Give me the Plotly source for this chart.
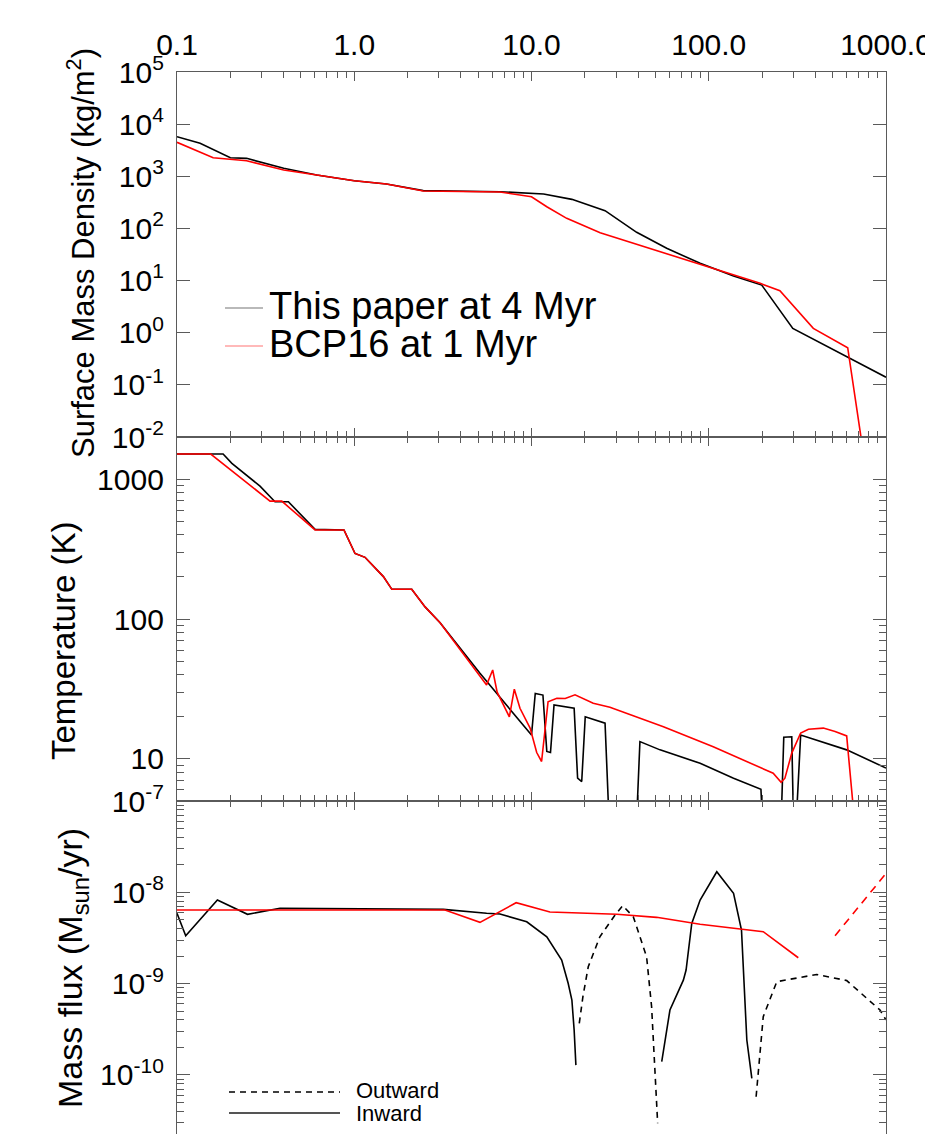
import numpy as np
import plotly.graph_objects as go

# ---------------- data ----------------
# Panel 1: surface mass density (kg/m^2)
sd_black_r = [0.1, 0.135, 0.2, 0.247, 0.4, 0.614, 1.0, 1.52, 2.45, 6.64, 11.7, 16.9, 26.0, 39.2, 57.9, 89.4, 138, 199, 298, 505, 1000]
sd_black_v = [5740, 4290, 2270, 2210, 1420, 1060, 822, 711, 530, 505, 457, 361, 219, 84.3, 41.6, 21.4, 12.2, 8.2, 1.21, 0.466, 0.140]
sd_red_r = [0.1, 0.16, 0.247, 0.4, 0.614, 1.0, 1.52, 2.45, 6.64, 10.0, 12.2, 15.8, 24.4, 37.6, 57.9, 89.4, 138, 195, 252, 389, 608, 741]
sd_red_v = [4490, 2270, 1990, 1320, 1060, 822, 711, 523, 500, 405, 261, 156, 82.8, 51.9, 31.9, 19.9, 12.8, 8.85, 6.40, 1.21, 0.515, 0.0056]

# Panel 2: temperature (K)
t_black_r = [0.1, 0.182, 0.204, 0.294, 0.357, 0.425, 0.601, 0.875, 1.01, 1.15, 1.46, 1.63, 2.11, 2.51, 3.05, 5.12, 10.0, 10.5, 11.6, 12.2, 12.8, 13.4, 17.4, 18.2, 19.2, 20.1, 26.0, 27.3, 39.3, 40.9, 53.1, 89.4, 138, 197, 200, 257, 265, 294, 300, 313, 330, 600, 1000]
t_black_v = [1510, 1510, 1295, 891, 689, 689, 437, 433, 294, 276, 201, 163, 163, 122, 94, 40.9, 14.8, 29.4, 28.6, 11.3, 11.1, 24.3, 23.0, 7.28, 6.89, 20.0, 18.0, 4, 4, 13.3, 11.6, 9.3, 7.28, 6.07, 4, 4, 14.3, 14.4, 4, 4, 14.8, 11.6, 8.6]
t_red_r = [0.1, 0.155, 0.335, 0.39, 0.601, 0.875, 1.01, 1.15, 1.46, 1.63, 2.11, 2.51, 3.05, 5.58, 6.04, 6.4, 7.5, 8.0, 8.61, 9.82, 10.7, 11.4, 12.4, 13.9, 15.5, 17.6, 22.3, 27.7, 55.5, 106, 231, 256, 269, 294, 330, 365, 443, 516, 600, 659]
t_red_v = [1510, 1510, 696, 696, 433, 433, 294, 276, 201, 163, 163, 122, 94, 33.8, 43.2, 30.0, 20.0, 31.5, 23.0, 16.6, 11.1, 9.58, 25.6, 27.1, 27.0, 28.7, 25.0, 23.4, 17.0, 12.2, 7.9, 6.8, 7.28, 11.0, 15.3, 16.3, 16.6, 15.7, 14.6, 4]

# Panel 3: mass flux (Msun/yr); None separates segments
f_in_r = [0.1, 0.112, 0.169, 0.250, 0.381, 3.18, 5.58, 6.64, 9.40, 12.2, 14.8, 16.1, 16.9, 17.4, 17.8, None,
          54.3, 60.4, 71.9, 74.5, 80.2, 89.4, 111, 138, 153, 164, 175]
f_in_v = [5.89e-9, 3.35e-9, 8.24e-9, 5.74e-9, 6.68e-9, 6.5e-9, 5.89e-9, 5.78e-9, 4.76e-9, 3.26e-9, 1.81e-9, 1.01e-9, 6.61e-10, 3.1e-10, 1.28e-10, None,
          1.40e-10, 5.14e-10, 1.09e-9, 1.41e-9, 4.57e-9, 8.24e-9, 1.68e-8, 9.75e-9, 3.86e-9, 2.41e-10, 9.18e-11]
f_out_r = [18.6, 19.5, 20.9, 24.3, 29.6, 32.7, 37.5, 44.6, 47.6, 49.7, 51.5, None,
           185, 203, 242, 406, 600, 925, 1000]
f_out_v = [3.67e-10, 7.2e-10, 1.53e-9, 3.26e-9, 5.64e-9, 7.13e-9, 5.41e-9, 1.97e-9, 5.58e-10, 1.04e-10, 2.95e-11, None,
           5.77e-11, 4.35e-10, 1.05e-9, 1.26e-9, 1.08e-9, 5.14e-10, 4.0e-10]
f_red_in_r = [0.1, 3.25, 5.12, 8.19, 12.7, 30.3, 50.8, 89.4, 203, 320]
f_red_in_v = [6.4e-9, 6.4e-9, 4.69e-9, 7.69e-9, 6.08e-9, 5.74e-9, 5.32e-9, 4.46e-9, 3.70e-9, 1.92e-9]
f_red_out_r = [516, 1000]
f_red_out_v = [3.35e-9, 1.61e-8]

# ticks
x_tickvals = [0.1, 1, 10, 100, 1000]
x_ticktext = ["0.1", "1.0", "10.0", "100.0", "1000.0"]
y1_tickvals = [1e-2, 1e-1, 1e0, 1e1, 1e2, 1e3, 1e4, 1e5]
y1_ticktext = ["10<sup>-2</sup>", "10<sup>-1</sup>", "10<sup>0</sup>", "10<sup>1</sup>", "10<sup>2</sup>",
               "10<sup>3</sup>", "10<sup>4</sup>", "10<sup>5</sup>"]
y2_tickvals = [10, 100, 1000]
y2_ticktext = ["10", "100", "1000"]
y3_tickvals = [1e-10, 1e-9, 1e-8, 1e-7]
y3_ticktext = ["10<sup>-10</sup>", "10<sup>-9</sup>", "10<sup>-8</sup>", "10<sup>-7</sup>"]

# ---------------- layout geometry ----------------
W, H = 925, 1134
L, R, T, B = 177, 39, 72, 0
PW = W - L - R
PH = H - T - B


def pxx(p):
    return (p - L) / PW


def pxy(p):
    return (H - B - p) / PH


def minor_vals(lo, hi):
    out = []
    for e in range(lo, hi):
        for m in range(2, 10):
            out.append(m * 10.0 ** e)
    return out


FONT = "Liberation Sans, Arial, Helvetica, sans-serif"
AX = "#5a5a5a"

fig = go.Figure()
lw = 1.6
fig.add_trace(go.Scatter(x=sd_black_r, y=sd_black_v, mode="lines", line=dict(color="black", width=lw), xaxis="x", yaxis="y"))
fig.add_trace(go.Scatter(x=sd_red_r, y=sd_red_v, mode="lines", line=dict(color="#ff0000", width=lw), xaxis="x", yaxis="y"))
fig.add_trace(go.Scatter(x=t_black_r, y=t_black_v, mode="lines", line=dict(color="black", width=lw), xaxis="x2", yaxis="y2"))
fig.add_trace(go.Scatter(x=t_red_r, y=t_red_v, mode="lines", line=dict(color="#ff0000", width=lw), xaxis="x2", yaxis="y2"))
fig.add_trace(go.Scatter(x=f_in_r, y=f_in_v, mode="lines", line=dict(color="black", width=lw), connectgaps=False, xaxis="x3", yaxis="y3"))
fig.add_trace(go.Scatter(x=f_out_r, y=f_out_v, mode="lines", line=dict(color="black", width=lw, dash="6px,5px"), connectgaps=False, xaxis="x3", yaxis="y3"))
fig.add_trace(go.Scatter(x=f_red_in_r, y=f_red_in_v, mode="lines", line=dict(color="#ff0000", width=lw), xaxis="x3", yaxis="y3"))
fig.add_trace(go.Scatter(x=f_red_out_r, y=f_red_out_v, mode="lines", line=dict(color="#ff0000", width=lw, dash="8px,6px"), xaxis="x3", yaxis="y3"))

d3 = pxy(801)
d2 = pxy(437)

xminor = dict(tickmode="array", tickvals=minor_vals(-1, 3), ticks="inside", ticklen=6, tickcolor=AX, tickwidth=1, showgrid=False)
common_x = dict(type="log", range=[-1, 3], showline=True, linecolor=AX, linewidth=1.3, ticks="inside",
                tickcolor=AX, tickwidth=1.2, ticklen=9, showgrid=False, zeroline=False,
                tickmode="array", tickvals=x_tickvals, ticktext=x_ticktext, minor=xminor)
common_y = dict(type="log", showline=True, linecolor=AX, linewidth=1.3, ticks="inside", tickcolor=AX,
                tickwidth=1.2, ticklen=13, showgrid=False, zeroline=False, mirror="ticks", tickmode="array",
                tickfont=dict(family=FONT, size=30, color="black"), ticklabelstandoff=6)

fig.update_layout(
    width=W, height=H, autosize=False,
    margin=dict(l=L, r=R, t=T, b=B, pad=0, autoexpand=False),
    paper_bgcolor="white", plot_bgcolor="white",
    showlegend=False,
    font=dict(family=FONT, color="black"),
    xaxis=dict(common_x, domain=[0, 1], anchor="y", side="top", mirror="ticks", showticklabels=True,
               tickfont=dict(family=FONT, size=30, color="black"), ticklabelstandoff=4,
               ticklabeloverflow="allow"),
    xaxis2=dict(common_x, domain=[0, 1], anchor="y2", matches="x", mirror="ticks", showticklabels=False),
    xaxis3=dict(common_x, domain=[0, 1], anchor="y3", matches="x", side="top", mirror=False, showticklabels=False),
    yaxis=dict(common_y, domain=[d2, 1], anchor="x", range=[-2, 5], tickvals=y1_tickvals, ticktext=y1_ticktext),
    yaxis2=dict(common_y, domain=[d3, d2], anchor="x2", range=[np.log10(5), np.log10(2000)],
                tickvals=y2_tickvals, ticktext=y2_ticktext,
                minor=dict(tickmode="array", tickvals=[v for v in minor_vals(0, 3) if v > 5], ticks="inside",
                           ticklen=7, tickcolor=AX, tickwidth=1, showgrid=False)),
    yaxis3=dict(common_y, domain=[0, d3], anchor="x3", range=[-10.647, -7],
                tickvals=y3_tickvals, ticktext=y3_ticktext,
                minor=dict(tickmode="array", tickvals=minor_vals(-11, -7), ticks="inside",
                           ticklen=7, tickcolor=AX, tickwidth=1, showgrid=False)),
)

# axis titles
titles = [
    ("Surface Mass Density (kg/m<sup>2</sup>)", 81, 253, 31),
    ("Temperature (K)", 64, 641, 33),
    ("Mass flux (M<sub>sun</sub>/yr)", 72, 968, 34),
]
for txt, xc, yc, fs in titles:
    fig.add_annotation(text=txt, x=pxx(xc), y=pxy(yc), xref="paper", yref="paper", textangle=-90,
                       showarrow=False, xanchor="center", yanchor="middle",
                       font=dict(family=FONT, size=fs, color="black"))

# legend in top panel
fig.add_shape(type="line", xref="paper", yref="paper", x0=pxx(225), x1=pxx(263), y0=pxy(308), y1=pxy(308),
              line=dict(color="rgba(0,0,0,0.55)", width=1))
fig.add_shape(type="line", xref="paper", yref="paper", x0=pxx(225), x1=pxx(263), y0=pxy(346), y1=pxy(346),
              line=dict(color="rgba(255,0,0,0.55)", width=1))
fig.add_annotation(text="This paper at 4 Myr", x=pxx(267), y=pxy(306), xref="paper", yref="paper",
                   showarrow=False, xanchor="left", yanchor="middle", font=dict(family=FONT, size=38, color="black"))
fig.add_annotation(text="BCP16 at 1 Myr", x=pxx(267), y=pxy(344), xref="paper", yref="paper",
                   showarrow=False, xanchor="left", yanchor="middle", font=dict(family=FONT, size=38, color="black"))

# line-style legend in bottom panel
fig.add_shape(type="line", xref="paper", yref="paper", x0=pxx(229), x1=pxx(340), y0=pxy(1092), y1=pxy(1092),
              line=dict(color="black", width=1.3, dash="6px,5px"))
fig.add_shape(type="line", xref="paper", yref="paper", x0=pxx(229), x1=pxx(340), y0=pxy(1113), y1=pxy(1113),
              line=dict(color="#555555", width=2))
fig.add_annotation(text="Outward", x=pxx(354), y=pxy(1090), xref="paper", yref="paper",
                   showarrow=False, xanchor="left", yanchor="middle", font=dict(family=FONT, size=22, color="black"))
fig.add_annotation(text="Inward", x=pxx(354), y=pxy(1113), xref="paper", yref="paper",
                   showarrow=False, xanchor="left", yanchor="middle", font=dict(family=FONT, size=22, color="black"))

post = ("document.documentElement.style.margin='0';document.documentElement.style.overflow='hidden';"
        "document.body.style.margin='0';document.body.style.overflow='hidden';")
fig.write_html("out.html", config={"displayModeBar": False}, post_script=post)
